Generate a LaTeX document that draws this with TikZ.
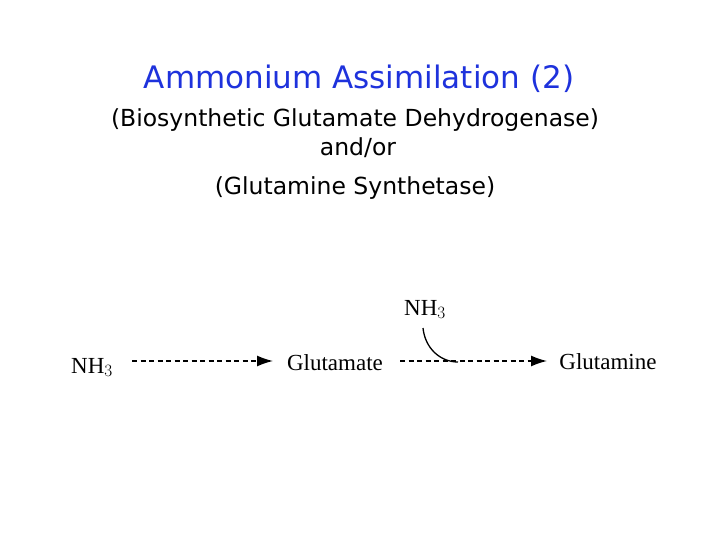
\documentclass[tikz,border=0pt]{standalone}
\usepackage{fontspec}
\setmainfont{Liberation Serif}
\newfontfamily\subfont{DejaVu Sans}
\newfontfamily\titfont{DejaVu Sans}
\usetikzlibrary{arrows.meta}
\definecolor{titblue}{RGB}{30,50,220}
\begin{document}
\begin{tikzpicture}[x=1pt,y=-1pt,
  chem/.style={font=\fontsize{23}{26}\selectfont, inner sep=0pt, anchor=base},
  sub/.style={font=\subfont\fontsize{23.5}{26}\selectfont, inner sep=0pt, anchor=base},
  rx/.style={line width=1.4pt, dash pattern=on 5pt off 3.5pt, -{Latex[length=16pt,width=11pt]}}]
\useasboundingbox (0,0) rectangle (720,540);
\node[font=\titfont\fontsize{31}{34}\selectfont, text=titblue, inner sep=0pt, anchor=base] (t) at (359,89) {Ammonium Assimilation (2)};
\node[sub] (s1) at (355,127) {(Biosynthetic Glutamate Dehydrogenase)};
\node[sub] (s2) at (358,156) {and/or};
\node[sub] (s3) at (355,195) {(Glutamine Synthetase)};
\node[chem] (n1) at (92,373) {NH$_3$};
\node[chem] (glu) at (335,370) {Glutamate};
\node[chem] (gln) at (608,369) {Glutamine};
\node[chem] (n2) at (425,315) {NH$_3$};
\coordinate (a1) at (132,361);
\coordinate (a2) at (273,361);
\coordinate (b1) at (400,361);
\coordinate (b2) at (547,361);
\coordinate (c1) at (423,328);
\coordinate (j) at (458,362);
\draw[rx] (a1) -- (a2);
\draw[rx] (b1) -- (b2);
\draw[line width=1.3pt] (c1) .. controls (425,348) and (440,362) .. (j);
\end{tikzpicture}
\end{document}
